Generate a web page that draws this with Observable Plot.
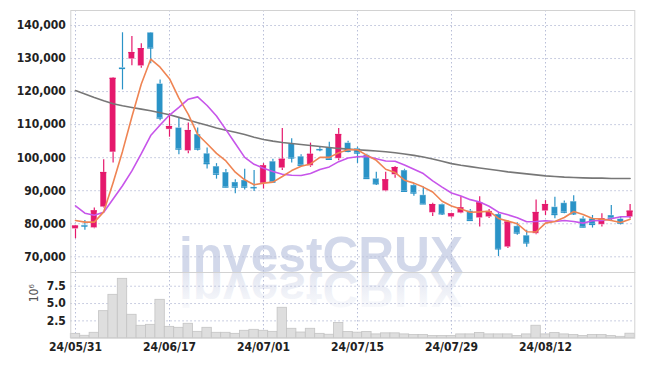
<!DOCTYPE html>
<html><head><meta charset="utf-8">
<script src="https://cdn.jsdelivr.net/npm/d3@7"></script>
<script src="https://cdn.jsdelivr.net/npm/@observablehq/plot@0.6"></script>
<style>
body{margin:0;background:#fff;}
#wrap{position:relative;width:645px;height:366px;overflow:hidden;}
#wrap > svg{position:absolute;left:0;}
</style></head><body><div id="wrap"></div>
<script>
const dates = ["24/05/31","24/06/03","24/06/04","24/06/05","24/06/07","24/06/10","24/06/11","24/06/12","24/06/13","24/06/14",
"24/06/17","24/06/18","24/06/19","24/06/20","24/06/21","24/06/24","24/06/25","24/06/26","24/06/27","24/06/28",
"24/07/01","24/07/02","24/07/03","24/07/04","24/07/05","24/07/08","24/07/09","24/07/10","24/07/11","24/07/12",
"24/07/15","24/07/16","24/07/17","24/07/18","24/07/19","24/07/22","24/07/23","24/07/24","24/07/25","24/07/26",
"24/07/29","24/07/30","24/07/31","24/08/01","24/08/02","24/08/05","24/08/06","24/08/07","24/08/08","24/08/09",
"24/08/12","24/08/13","24/08/14","24/08/16","24/08/19","24/08/20","24/08/21","24/08/22","24/08/23","24/08/26"];

const open  = [78400,79500,78700,85000,101600,127200,129800,127700,137800,122300,
108500,109000,102000,107000,101200,97300,95500,92500,93100,91000,
92200,98800,96800,104100,100300,97500,102500,103000,99700,104400,
102700,100700,93600,89900,94800,96100,91600,88600,83300,85800,
82000,83200,83800,81700,82000,82800,72900,79200,76400,77000,
83800,85000,86200,86700,81500,81500,79700,82500,81400,82000];
const high  = [79500,81000,84800,99400,124200,137800,136700,134500,137900,123500,
113300,112000,110500,109000,102900,98200,96400,93300,96500,96100,
98200,99500,108800,105700,100900,104400,103300,104700,108800,105000,
103200,101000,95600,95600,97300,96500,92100,91100,86200,86000,
83200,88200,84300,88200,84300,83500,80900,80300,78000,87200,
87000,88000,86900,88500,82100,82500,83000,85500,81900,85800];
const low   = [75500,78000,78500,84800,98400,120500,127800,127100,128400,111200,
106200,100900,101200,102000,96600,93500,90900,89100,90200,89800,
90500,92600,96100,98400,97200,97100,101800,99300,99100,101500,
98200,93500,91600,89700,93800,89700,88300,85800,82200,82500,
81700,83000,80800,79000,81600,70100,72500,76500,72900,76700,
82500,81500,83000,82500,78800,78700,79000,81000,79600,81500];
const close = [79300,79300,83900,95500,124000,127000,131800,133000,133200,112000,
109400,102600,108200,102600,98200,95000,91100,91100,91100,90900,
97500,92600,99500,99900,97700,101000,102400,99500,107000,101900,
101400,93700,92100,93300,97000,89800,89300,86000,85800,83000,
83000,84800,81000,86300,83700,72400,80500,77200,74200,83400,
85800,82800,83500,83000,79000,79800,81500,81700,80200,83800];

const ma5  = [81000,80500,80500,83600,92400,101900,112400,122300,129800,127400,
123900,118000,113100,107000,104200,101300,99000,95600,93300,91800,
92300,92600,94300,96100,97400,98100,100100,100100,101500,102400,
102400,100700,99200,96500,95500,93200,92300,91100,89600,86800,
85400,84500,83500,83600,83800,81600,80800,80000,77600,77500,
80200,80700,81900,83700,82800,81600,81400,81000,80400,81400];
const ma10 = [85400,83200,82600,83500,87500,91500,96000,101200,106700,109900,
112900,115200,117700,118400,115800,112600,108500,104300,100100,98000,
96800,95800,95000,94700,94600,95200,96400,97200,98800,99900,
100300,100400,99700,99000,98900,97800,96500,95200,93000,91100,
89300,88400,87300,86600,85300,83500,82700,81800,80600,80700,
80900,80700,81000,80700,80200,80900,81000,81500,82100,82100];
const ma60 = [120300,119300,118200,117200,116300,115700,115200,114700,114200,113600,
113000,112200,111400,110600,109800,109000,108300,107700,107000,106200,
105500,105000,104600,104300,104000,103700,103400,103100,102800,102600,
102400,102200,102000,101800,101500,101100,100700,100200,99600,98900,
98200,97700,97300,96900,96500,96100,95700,95400,95100,94800,
94500,94300,94100,94000,93900,93800,93800,93700,93700,93700];
// volume in millions (axis unit 10^6)
const volume = [0.63,0.35,0.78,3.9,6.26,8.57,3.38,1.79,1.93,5.54,
1.64,1.5,2.08,0.92,1.5,0.78,0.78,0.63,1.07,1.21,
1.07,0.92,4.39,1.36,0.82,1.36,0.63,0.5,2.2,0.9,
0.8,0.9,0.55,0.7,0.7,0.55,0.45,0.45,0.3,0.3,
0.3,0.55,0.55,0.75,0.55,0.55,0.55,0.3,0.55,1.8,
0.55,0.75,0.55,0.45,0.3,0.45,0.45,0.3,0.2,0.65];

const priceTicks = [70000,80000,90000,100000,110000,120000,130000,140000];
const volTicks = [2.5,5,7.5];
const dateTicks = ["24/05/31","24/06/17","24/07/01","24/07/15","24/07/29","24/08/12"];

const rows = dates.map((d,i)=>({date:d, open:open[i], high:high[i], low:low[i], close:close[i],
  ma5:ma5[i], ma10:ma10[i], ma60:ma60[i], volume:volume[i]}));

const UP = "#e5186c", DOWN = "#2a93c7";
const col = d => d.close >= d.open ? UP : DOWN;
const FONT = "'DejaVu Sans Condensed', 'DejaVu Sans', sans-serif";
const gridStyle = {stroke:"#b9bfd8", strokeOpacity:1, strokeDasharray:"1.5,2.5", strokeWidth:1};
const ML = 70.3, MR = 10.7;

const wrap = document.getElementById("wrap");

// watermark (behind both panels)
const ns = "http://www.w3.org/2000/svg";
const wm = document.createElementNS(ns,"svg");
wm.setAttribute("width",645); wm.setAttribute("height",366);
wm.style.top = "0px";
wm.innerHTML = `
<defs><linearGradient id="fade" x1="0" y1="0" x2="0" y2="1" gradientUnits="objectBoundingBox">
<stop offset="0" stop-color="#d8ddec" stop-opacity="0"/><stop offset="1" stop-color="#dde1ee" stop-opacity="1"/></linearGradient></defs>
<text x="179" y="272" font-family="'Liberation Sans', Arial, sans-serif" font-weight="bold" font-size="50" fill="#d2d8ea" textLength="284" lengthAdjust="spacingAndGlyphs">investCRUX</text>
<text x="179" y="272" transform="translate(0,544) scale(1,-1)" font-family="'Liberation Sans', Arial, sans-serif" font-weight="bold" font-size="50" fill="url(#fade)" textLength="284" lengthAdjust="spacingAndGlyphs">investCRUX</text>`;
wrap.appendChild(wm);

const price = Plot.plot({
  width:645, height:272, marginTop:10, marginBottom:0, marginLeft:ML, marginRight:MR,
  style:{background:"transparent", fontFamily:FONT, fontSize:"12px", color:"#222", overflow:"visible"},
  x:{type:"band", domain:dates, padding:0, round:false, axis:null},
  y:{domain:[65250,144540], axis:null},
  marks:[
    Plot.gridX(dateTicks, gridStyle),
    Plot.gridY(priceTicks, gridStyle),
    Plot.frame({stroke:"#d2d2d2"}),
    Plot.axisY(priceTicks, {tickSize:0, tickPadding:5, tickFormat:d3.format(","), fontWeight:"bold", fill:"#222", label:null}),
    Plot.ruleX(rows, {x:"date", y1:"low", y2:"high", stroke:col, strokeWidth:1.2}),
    Plot.barY(rows, {x:"date", y1:"open", y2:"close", fill:col, stroke:"#ffffff", strokeOpacity:0.45, strokeWidth:0.8, insetLeft:1.6, insetRight:1.6}),
    Plot.tickY(rows, {x:"date", y:"close", stroke:col, strokeWidth:1.3, insetLeft:1.6, insetRight:1.6}),
    Plot.line(rows, {x:"date", y:"ma60", stroke:"#777777", strokeWidth:1.6}),
    Plot.line(rows, {x:"date", y:"ma10", stroke:"#c755ea", strokeWidth:1.6}),
    Plot.line(rows, {x:"date", y:"ma5", stroke:"#ef8453", strokeWidth:1.6})
  ]
});
price.style.top = "0px";
wrap.appendChild(price);

const vol = Plot.plot({
  width:645, height:94, marginTop:0, marginBottom:28.3, marginLeft:ML, marginRight:MR,
  style:{background:"transparent", fontFamily:FONT, fontSize:"12px", color:"#222", overflow:"visible"},
  x:{type:"band", domain:dates, padding:0, round:false, axis:null},
  y:{domain:[0,9.48], axis:null},
  marks:[
    Plot.gridX(dateTicks, gridStyle),
    Plot.gridY(volTicks, gridStyle),
    Plot.barY(rows, {x:"date", y:"volume", fill:"#dedede", stroke:"#c4c4c4", strokeWidth:0.8}),
    Plot.frame({stroke:"#d2d2d2"}),
    Plot.axisX(dateTicks, {tickSize:0, tickPadding:4, fontWeight:"bold", fill:"#222", label:null}),
    Plot.axisY(volTicks, {tickSize:0, tickPadding:5, tickFormat:d3.format(".1f"), fontWeight:"bold", fill:"#222", label:null}),
    Plot.text(["10⁶"], {frameAnchor:"left", dx:-37, dy:-3, rotate:-90, fill:"#555", fontSize:12, fontWeight:"normal"})
  ]
});
vol.style.top = "272px";
wrap.appendChild(vol);
</script></body></html>
